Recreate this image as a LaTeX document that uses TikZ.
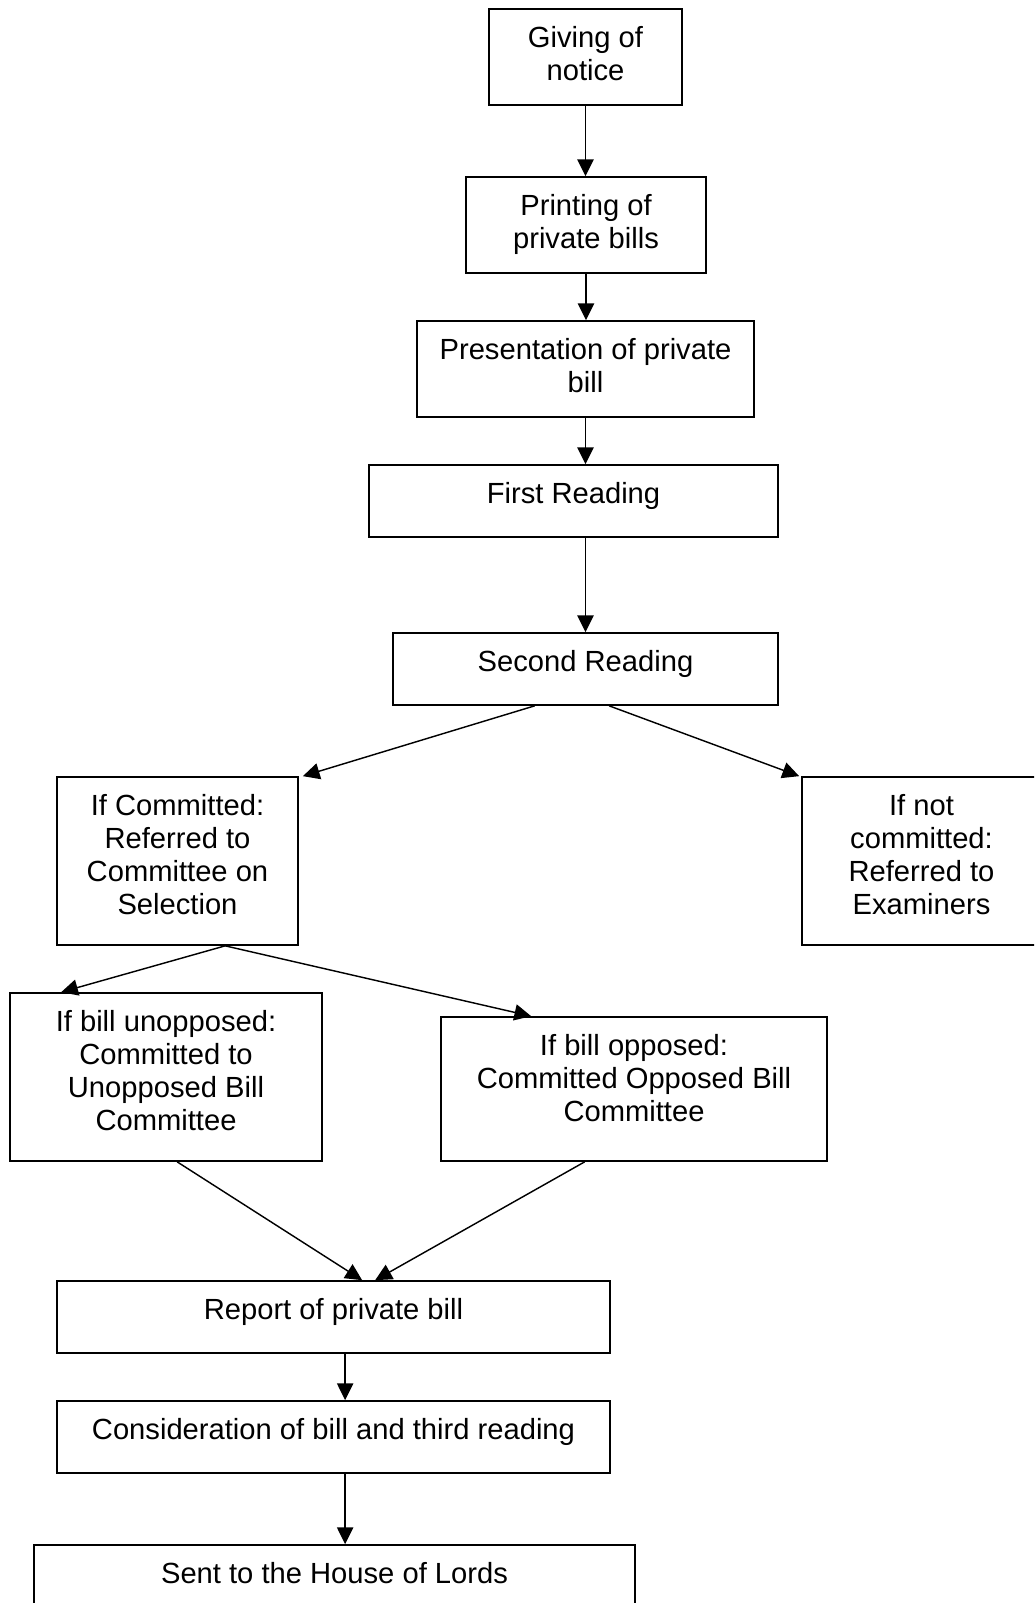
\documentclass[tikz,border=0pt]{standalone}
\usepackage{fontspec}
\setmainfont{Liberation Sans}
\usetikzlibrary{arrows.meta,calc}
\begin{document}
\begin{tikzpicture}[x=0.4184pt,y=-0.4184pt,
  bx/.style 2 args={draw, line width=0.7pt, inner sep=0pt, minimum width=#1*0.4184pt, minimum height=#2*0.4184pt},
  txt/.style={anchor=north, align=center, inner sep=0pt, font=\fontsize{12.2pt}{13.8pt}\selectfont},
  arr/.style={line width=0.6pt, -{Triangle[length=7pt,width=6.8pt]}}]
\useasboundingbox (0,0) rectangle (1034,1603);
\clip (0,0) rectangle (1034,1603);
% boxes
\node[bx={193}{96}] (gn) at (585.5,57) {};
\node[txt] (gnt) at (585.5,23) {\rule{0pt}{10pt}Giving of\\notice};
\node[bx={240}{96}] (pp) at (586,225) {};
\node[txt] (ppt) at (586,191) {\rule{0pt}{10pt}Printing of\\private bills};
\node[bx={337}{96}] (pr) at (585.5,369) {};
\node[txt] (prt) at (585.5,335) {\rule{0pt}{10pt}Presentation of private\\bill};
\node[bx={409}{72}] (fr) at (573.5,501) {};
\node[txt] (frt) at (573.5,479) {\rule{0pt}{10pt}First Reading};
\node[bx={385}{72}] (sr) at (585.5,669) {};
\node[txt] (srt) at (585.5,647) {\rule{0pt}{10pt}Second Reading};
\node[bx={241}{168}] (cs) at (177.5,861) {};
\node[txt] (cst) at (177.5,791) {\rule{0pt}{10pt}If Committed:\\Referred to\\Committee on\\Selection};
\node[bx={239}{168}] (nc) at (921.5,861) {};
\node[txt] (nct) at (921.5,791) {\rule{0pt}{10pt}If not\\committed:\\Referred to\\Examiners};
\node[bx={312}{168}] (ub) at (166,1077) {};
\node[txt] (ubt) at (166,1007) {\rule{0pt}{10pt}If bill unopposed:\\Committed to\\Unopposed Bill\\Committee};
\node[bx={386}{144}] (ob) at (634,1089) {};
\node[txt] (obt) at (634,1031) {\rule{0pt}{10pt}If bill opposed:\\Committed Opposed Bill\\Committee};
\node[bx={553}{72}] (rp) at (333.5,1317) {};
\node[txt] (rpt) at (333.5,1295) {\rule{0pt}{10pt}Report of private bill};
\node[bx={553}{72}] (ct) at (333.5,1437) {};
\node[txt] (ctt) at (333.5,1415) {\rule{0pt}{10pt}Consideration of bill and third reading};
\node[bx={601}{76}] (sh) at (334.5,1583) {};
\node[txt] (sht) at (334.5,1559) {\rule{0pt}{10pt}Sent to the House of Lords};
% connectors
\draw[arr] (gn.south) -- (gn.south |- pp.north);
\draw[arr] (pp.south) -- (pp.south |- pr.north);
\draw[arr] (pr.south) -- (pr.south |- fr.north);
\draw[arr] ($(fr.south)+(12,0)$) -- (sr.north);
\draw[arr] ($(sr.south west)+(142.5,0)$) -- ($(cs.north east)+(4,0)$);
\draw[arr] ($(sr.south west)+(217,0)$) -- ($(nc.north west)+(-2,0)$);
\draw[arr] ($(cs.south west)+(169,0)$) -- ($(ub.north west)+(52,0)$);
\draw[arr] ($(cs.south west)+(169,0)$) -- ($(ob.north west)+(91,0)$);
\draw[arr] ($(ub.south west)+(168,0)$) -- ($(rp.north west)+(306,0)$);
\draw[arr] ($(ob.south west)+(144.5,0)$) -- ($(rp.north west)+(319,0)$);
\draw[arr] ($(rp.south west)+(289,0)$) -- ($(ct.north west)+(289,0)$);
\draw[arr] ($(ct.south west)+(289,0)$) -- ($(sh.north west)+(312,0)$);
\end{tikzpicture}
\end{document}
